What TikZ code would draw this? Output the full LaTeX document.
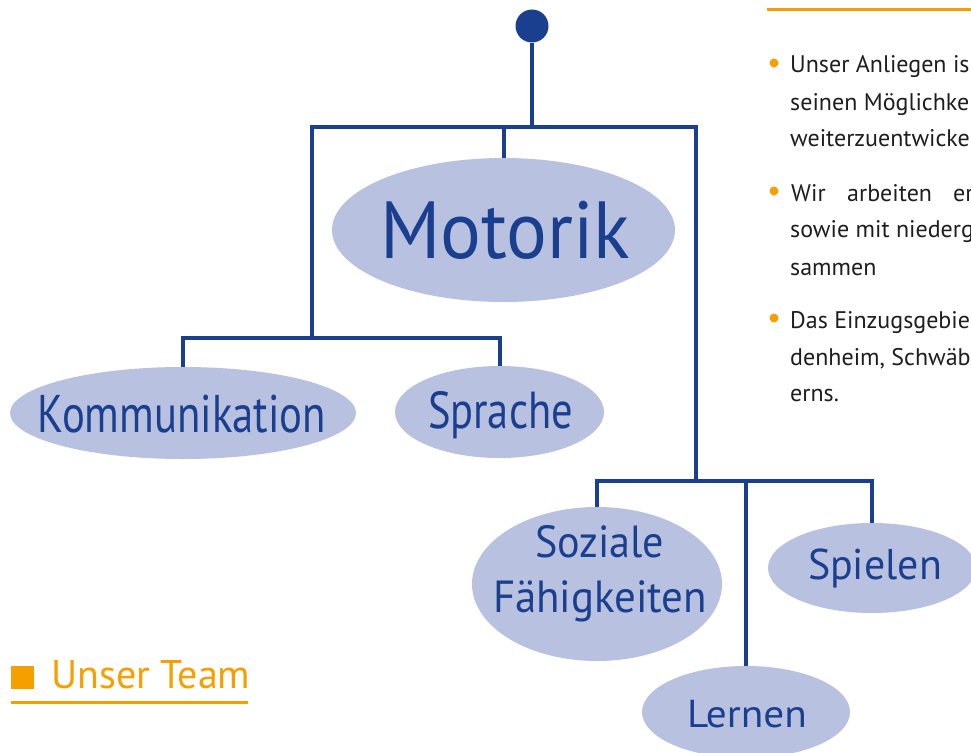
\documentclass[tikz,border=0pt]{standalone}
\usepackage{fontspec}
\setmainfont{PT Sans}
\usetikzlibrary{shapes.geometric}
\definecolor{treeblue}{HTML}{1B3F8F}
\definecolor{ellfill}{HTML}{B9C1E0}
\definecolor{orng}{HTML}{F5A000}
\definecolor{bodytext}{HTML}{1E1E1E}
\newcommand{\fitw}[2]{\resizebox{#1}{\height}{#2}}
\begin{document}
\begin{tikzpicture}[x=1pt,y=-1pt,
  conn/.style={draw=treeblue, line width=4pt},
  bubble/.style={ellipse, fill=ellfill, inner sep=0pt},
  blabel/.style={text=treeblue, anchor=base, inner sep=0pt},
  para/.style={text=bodytext, anchor=base west, inner sep=0pt, font=\fontsize{24}{28}\selectfont},
  bdot/.style={circle, fill=orng, minimum size=9pt, inner sep=0pt},
  rootdot/.style={circle, fill=treeblue, minimum size=33pt, inner sep=0pt}]
\useasboundingbox (0,0) rectangle (971,752);
\clip (0,0) rectangle (971,752);
\fill[white] (0,0) rectangle (971,752);

% ellipses
\node[bubble, minimum width=343pt, minimum height=144pt] (mot) at (503.5,230) {};
\node[bubble, minimum width=346pt, minimum height=92pt] (kom) at (183,413) {};
\node[bubble, minimum width=209pt, minimum height=92pt] (spr) at (499.5,412) {};
\node[bubble, minimum width=250pt, minimum height=154pt] (soz) at (597,584) {};
\node[bubble, minimum width=208pt, minimum height=92pt] (ler) at (746,712) {};
\node[bubble, minimum width=208pt, minimum height=90pt] (spi) at (872,568) {};

% labels
\node[blabel, font=\fontsize{81}{81}\selectfont] (motT) at (505,258) {\fitw{250pt}{Motorik}};
\node[blabel, font=\fontsize{53}{53}\selectfont] (komT) at (182,432) {\fitw{288pt}{Kommunikation}};
\node[blabel, font=\fontsize{52}{52}\selectfont] (sprT) at (500.5,428) {\fitw{145pt}{Sprache}};
\node[blabel, font=\fontsize{45}{45}\selectfont] (sozT1) at (599.5,557) {\fitw{129pt}{Soziale}};
\node[blabel, font=\fontsize{45}{45}\selectfont] (sozT2) at (600,612) {\fitw{214pt}{Fähigkeiten}};
\node[blabel, font=\fontsize{43}{43}\selectfont] (spiT) at (875,579) {\fitw{134pt}{Spielen}};
\node[blabel, font=\fontsize{39}{39}\selectfont] (lerT) at (747,727) {\fitw{120pt}{Lernen}};

% tree
\node[rootdot] (root) at (532,26) {};
\coordinate (j1) at (532,127);
\coordinate (lt) at (312,127);
\coordinate (rt) at (696,127);
\coordinate (mtop) at (503.5,127);
\coordinate (l2) at (312,338);
\coordinate (kL) at (183,338);
\coordinate (sR) at (499.5,338);
\coordinate (r2) at (696,481);
\coordinate (sozJ) at (597,481);
\coordinate (lerJ) at (746,481);
\coordinate (spiJ) at (872,481);

\draw[conn] (root) -- (j1);
\draw[conn] (l2) -- (lt) -- (rt) -- (r2);
\draw[conn] (mtop) -- (mot.north);
\draw[conn] (kom.north) -- (kL) -- (sR) -- (spr.north);
\draw[conn] (soz.north) -- (sozJ) -- (spiJ) -- (spi.north);
\draw[conn] (lerJ) -- (ler.north);

% right column
\draw[orng, line width=3pt] (767,10) -- (971,10);
\node[bdot] (b1) at (774,63) {};
\node[bdot] (b2) at (774,191) {};
\node[bdot] (b3) at (774,318) {};
\node[para] (p1) at (790,73) {Unser Anliegen is};
\node[para] (p2) at (790,110) {seinen Möglichke};
\node[para] (p3) at (790,146.5) {weiterzuentwicke};
\node[para] (p4a) at (791,201) {Wir};
\node[para] (p4b) at (847,201) {arbeiten};
\node[para] (p4c) at (953,201) {er};
\node[para] (p5) at (790,237.5) {sowie mit niederg};
\node[para] (p6) at (790,275) {sammen};
\node[para] (p7) at (790,328) {Das Einzugsgebie};
\node[para] (p8) at (790,365) {denheim, Schwäb};
\node[para] (p9) at (790,401.5) {erns.};

% heading
\fill[orng] (11,666) rectangle (34,689);
\node[anchor=base west, inner sep=0pt, text=orng, font=\fontsize{40}{40}\selectfont] (team) at (51,688) {Unser Team};
\draw[orng, line width=3pt] (11,702) -- (248,702);
\end{tikzpicture}
\end{document}
